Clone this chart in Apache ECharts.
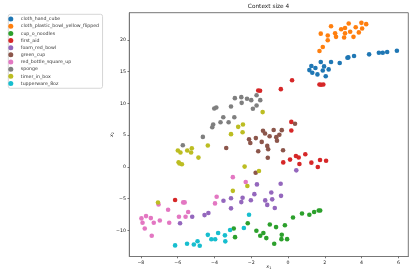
<!DOCTYPE html>
<html><head><meta charset="utf-8">
<script src="https://cdn.jsdelivr.net/npm/echarts@6/dist/echarts.min.js"></script>
<style>html,body{margin:0;padding:0;background:#fff}#c{width:415px;height:277px}</style>
</head><body><div id="c"></div>
<script>
const categories = ["cloth_hand_cube","cloth_plastic_bowl_yellow_flipped","cup_o_noodles","first_aid","foam_red_bowl","green_cup","red_bottle_square_up","sponge","timer_in_box","tupperware_8oz"];
const colors = ["#1f77b4","#ff7f0e","#2ca02c","#d62728","#9467bd","#8c564b","#e377c2","#7f7f7f","#bcbd22","#17becf"];
const xTicks = [-8,-6,-4,-2,0,2,4,6];
const yTicks = [-10,-5,0,5,10,15,20];

const clothHandCube = [[1.16,15.26],[1.27,15.9],[1.32,14.84],[1.49,15.58],[1.6,14.58],[1.78,16.53],[1.89,15.2],[1.96,15.84],[2.05,14.3],[2.21,15.37],[2.34,16.53],[2.81,16.37],[3.23,17.2],[3.28,17.26],[3.59,17.47],[4.41,17.74],[4.94,18.0],[5.15,18.0],[5.39,18.1],[5.92,18.3]];
const clothPlasticBowl = [[1.71,18.26],[1.89,18.9],[1.78,21.0],[2.16,20.7],[2.16,19.95],[2.34,22.16],[2.56,21.05],[2.61,20.5],[2.89,21.7],[3.1,21.9],[3.1,21.05],[3.05,20.4],[3.3,22.6],[3.38,21.3],[3.56,20.5],[3.68,22.0],[3.85,21.2],[3.99,22.7],[4.03,21.8],[4.25,22.5]];
const cupONoodles = [[0.27,-7.95],[0.76,-7.32],[1.16,-7.53],[1.42,-7.1],[1.67,-6.86],[1.75,-6.86],[-0.17,-9.18],[-0.65,-9.47],[-0.99,-9.05],[-1.72,-10.05],[-1.51,-10.84],[-1.34,-10.4],[-1.18,-11.2],[-0.34,-10.68],[-0.36,-11.37],[-0.05,-11.37],[-0.75,-12.1],[-2.95,-9.7],[-2.88,-11.05],[-2.19,-8.87]];
const firstAid = [[1.71,13.0],[1.8,12.95],[1.92,13.0],[0.22,13.65],[-0.39,12.26],[-1.62,12.05],[-1.52,12.0],[0.18,7.1],[0.18,5.75],[-0.26,0.72],[0.11,1.16],[0.43,1.72],[0.58,1.5],[0.62,0.48],[0.94,2.0],[1.27,0.68],[1.62,0.0],[1.74,1.1],[2.07,0.97],[-6.14,-5.2]];
const foamRedBowl = [[0.45,-0.53],[-1.69,-2.74],[-0.4,-2.65],[-1.83,-4.28],[-0.91,-4.02],[-0.38,-4.55],[-2.47,-4.84],[-2.02,-5.24],[-3.1,-4.92],[-3.51,-5.32],[-2.54,-5.53],[-1.24,-5.26],[-0.86,-5.1],[-1.13,-5.97],[-0.72,-6.45],[-3.1,-6.52],[-4.33,-7.26],[-4.54,-7.58],[-5.21,-7.84],[-5.87,-8.87]];
const greenCup = [[-3.36,3.0],[-2.12,4.35],[-2.05,3.77],[-1.75,4.55],[-1.43,3.95],[-1.62,2.48],[-1.13,3.32],[-1.08,2.8],[-1.1,1.45],[-1.76,-0.92],[-1.36,5.7],[-1.25,5.27],[-0.78,5.82],[-0.34,5.8],[-1.0,4.85],[-0.64,4.7],[-0.6,4.15],[-0.47,5.08],[-0.27,2.64],[0.38,6.8]];
const redBottleSquareUp = [[-3.0,-1.6],[-2.3,-2.37],[-3.88,-4.7],[-3.97,-5.74],[-5.7,-5.58],[-5.62,-5.58],[-7.04,-5.9],[-6.52,-6.73],[-5.43,-7.1],[-5.93,-7.84],[-5.57,-7.84],[-6.46,-8.79],[-6.97,-8.42],[-7.72,-7.74],[-7.46,-8.05],[-7.97,-8.1],[-7.91,-8.79],[-7.3,-8.79],[-7.79,-9.68],[-7.41,-10.84]];
const sponge = [[-4.63,4.74],[-5.72,3.42],[-4.12,6.26],[-4.07,6.68],[-4.01,9.21],[-3.9,9.37],[-3.67,7.05],[-3.52,7.84],[-3.23,7.05],[-3.1,9.53],[-2.92,7.84],[-2.89,10.84],[-2.54,11.0],[-2.52,10.1],[-2.23,10.74],[-2.0,10.53],[-1.91,9.16],[-1.71,9.68],[-1.71,11.3],[-1.51,10.53]];
const timerInBox = [[-5.99,2.59],[-5.85,2.27],[-5.48,2.59],[-5.23,2.95],[-5.27,2.27],[-4.87,1.48],[-4.36,3.38],[-5.95,0.74],[-5.9,0.55],[-5.77,0.43],[-3.1,5.17],[-2.71,6.32],[-2.45,6.7],[-2.47,5.48],[-1.38,8.64],[-2.36,0.06],[-1.58,-0.63],[-3.0,-3.76],[-2.21,-3.0],[-7.07,-5.6]];
const tupperware8oz = [[-2.12,-7.53],[-2.4,-9.6],[-3.15,-9.92],[-3.8,-10.41],[-4.36,-10.69],[-3.43,-10.77],[-3.41,-11.71],[-4.17,-11.38],[-3.96,-11.38],[-4.92,-11.69],[-5.12,-12.2],[-4.8,-12.41],[-5.49,-12.1],[-6.14,-12.35]];

const seriesData = [clothHandCube, clothPlasticBowl, cupONoodles, firstAid, foamRedBowl, greenCup, redBottleSquareUp, sponge, timerInBox, tupperware8oz];

const fmt = v => String(v).replace('-', '\u2212');
const FONT = 'DejaVu Sans';
const chart = echarts.init(document.getElementById('c'), null, {renderer: 'canvas'});
chart.setOption({
  animation: false,
  color: colors,
  textStyle: {fontFamily: FONT},
  title: {
    text: 'Context size 4', left: 268.5, top: 3.6, textAlign: 'center', padding: 0,
    textStyle: {fontFamily: FONT, fontSize: 5.8, fontWeight: 'normal', color: '#222'}
  },
  legend: {
    orient: 'vertical', left: 8.3, top: 14.3, icon: 'circle',
    itemWidth: 10, itemHeight: 5, itemGap: 2.15,
    padding: [2.3, 3.5, 2.3, 0],
    borderColor: '#d6d6d6', borderWidth: 1, borderRadius: 2,
    textStyle: {fontFamily: FONT, fontSize: 4.7, lineHeight: 5, color: '#333'},
    data: categories
  },
  grid: {
    left: 129.3, right: 6.7, top: 12.7, bottom: 20.5,
    show: true, borderColor: '#777', borderWidth: 1, backgroundColor: 'transparent'
  },
  xAxis: {
    type: 'value', min: -8.63, max: 6.54,
    splitLine: {show: false},
    axisLine: {show: true, onZero: false, lineStyle: {color: '#777', width: 1}},
    axisTick: {show: true, length: 1.8, customValues: xTicks, lineStyle: {color: '#555', width: 0.8}},
    axisLabel: {customValues: xTicks, formatter: fmt, fontFamily: FONT, fontSize: 4.7, color: '#222', margin: 3.3},
    name: '{i|x}{s|1}', nameLocation: 'middle', nameGap: 8.2, nameMoveOverlap: false,
    nameTextStyle: {rich: {i: {fontFamily: FONT, fontStyle: 'italic', fontSize: 4.8, color: '#222'}, s: {fontFamily: FONT, fontSize: 3.4, color: '#222', verticalAlign: 'bottom', padding: [2,0,0,0]}}}
  },
  yAxis: {
    type: 'value', min: -14.1, max: 24.3,
    splitLine: {show: false},
    axisLine: {show: true, onZero: false, lineStyle: {color: '#777', width: 1}},
    axisTick: {show: true, length: 1.8, customValues: yTicks, lineStyle: {color: '#555', width: 0.8}},
    axisLabel: {customValues: yTicks, formatter: fmt, fontFamily: FONT, fontSize: 4.7, color: '#222', margin: 3.3},
    name: '{i|x}{s|2}', nameLocation: 'middle', nameGap: 15, nameMoveOverlap: false,
    nameTextStyle: {rich: {i: {fontFamily: FONT, fontStyle: 'italic', fontSize: 4.8, color: '#222'}, s: {fontFamily: FONT, fontSize: 3.4, color: '#222', verticalAlign: 'bottom', padding: [2,0,0,0]}}}
  },
  series: categories.map((name, i) => ({
    name, type: 'scatter', data: seriesData[i], symbol: 'circle', symbolSize: 4.6,
    itemStyle: {color: colors[i], opacity: 1}
  }))
});
</script></body></html>
